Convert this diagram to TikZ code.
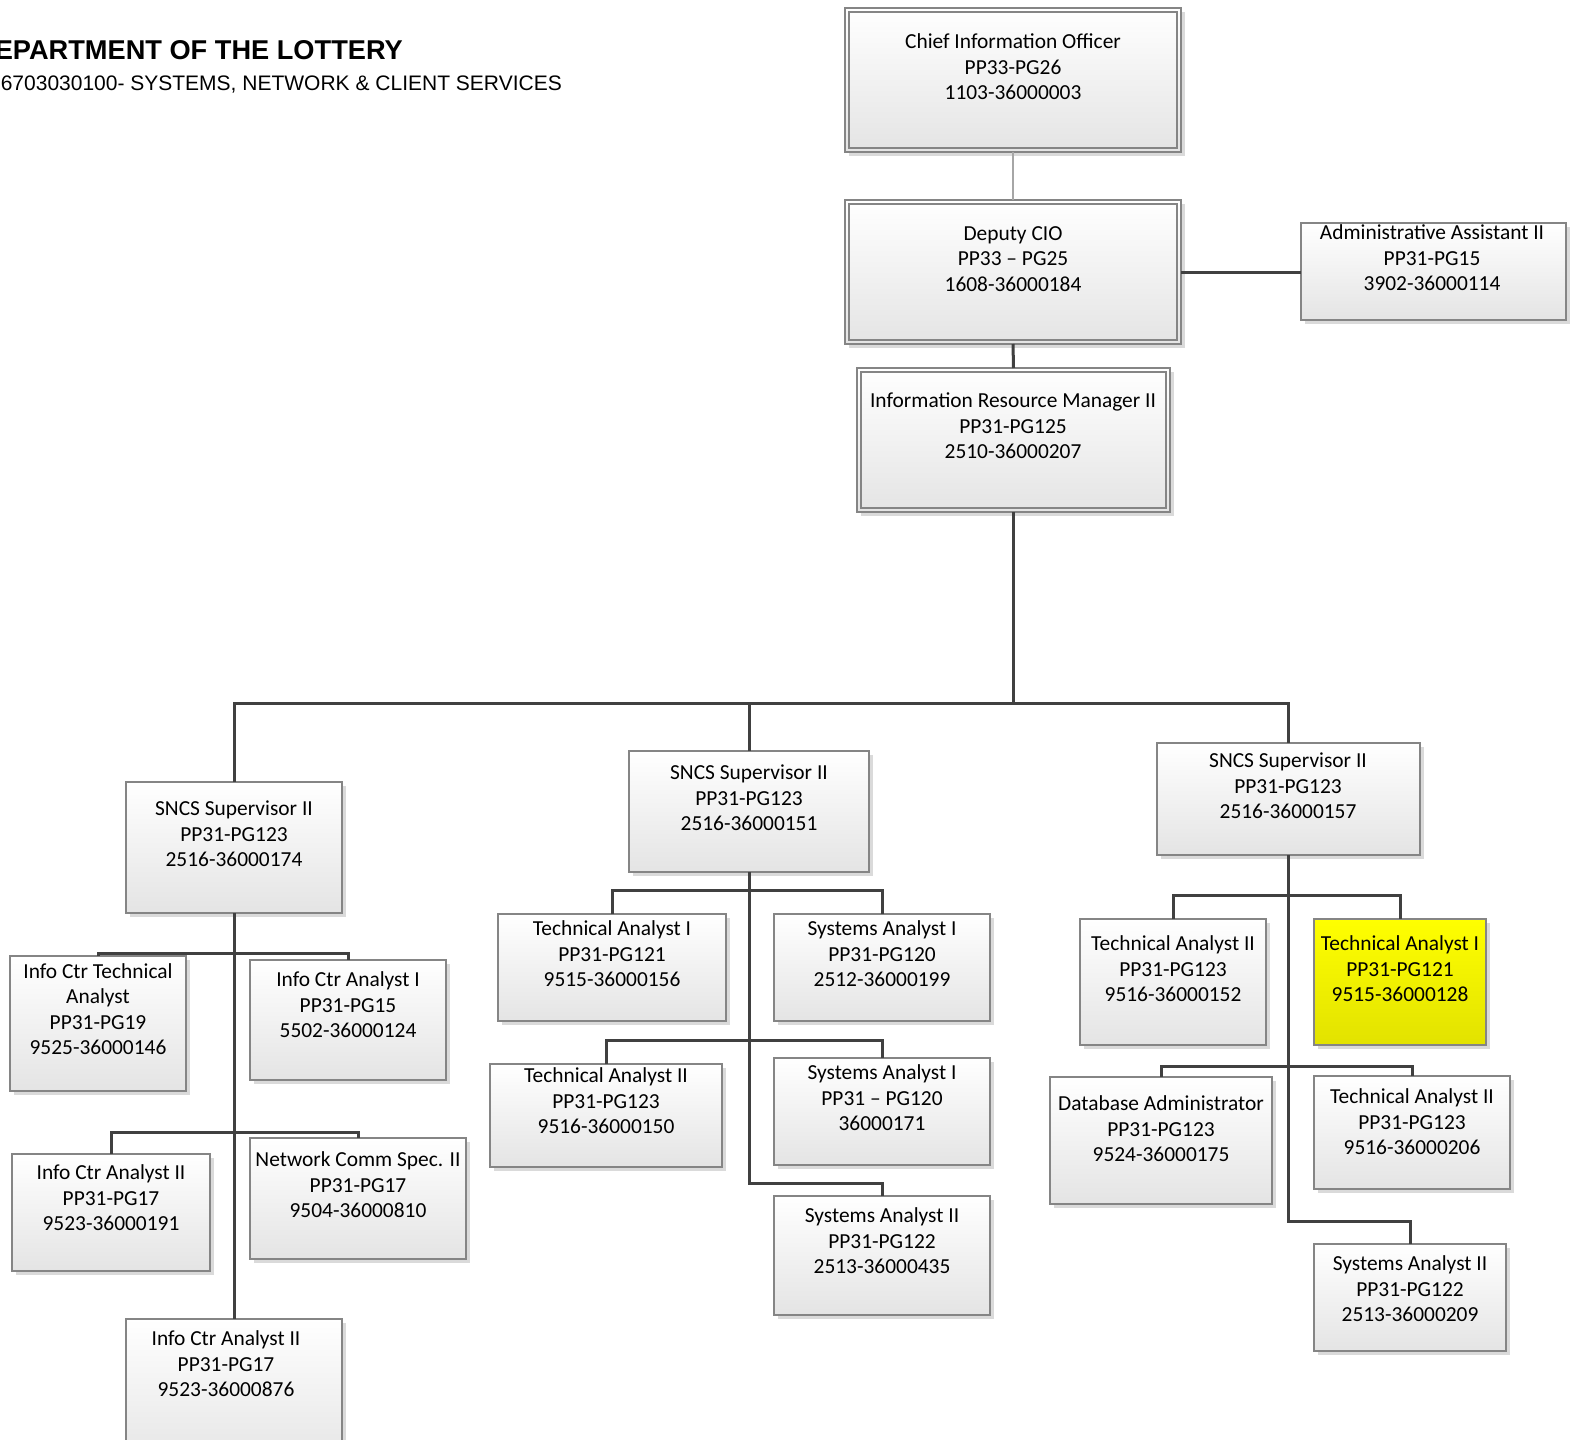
\documentclass[tikz,border=0pt]{standalone}
\usepackage{fontspec}
\setmainfont{Carlito}
\newfontfamily\arialfont{Liberation Sans}
\usetikzlibrary{shadows}

\definecolor{boxedge}{HTML}{858585}
\definecolor{boxbot}{HTML}{E4E4E4}
\definecolor{linkcol}{HTML}{404040}
\definecolor{shadowcol}{HTML}{DADADA}
\definecolor{hiltop}{HTML}{FFFF00}
\definecolor{hilbot}{HTML}{E2E200}

\tikzset{
  orgbox/.style={draw=boxedge, line width=1.5pt, rectangle, inner sep=0pt, outer sep=0pt,
    top color=white, bottom color=boxbot,
    drop shadow={shadow xshift=4pt, shadow yshift=-4pt, fill=shadowcol, opacity=1}},
  hibox/.style={orgbox, top color=hiltop, bottom color=hilbot},
  boxtext/.style={align=center, font=\fontsize{21.4}{25.5}\selectfont, inner sep=0pt},
  innerline/.style={draw=boxedge, line width=1.5pt},
  link/.style={draw=linkcol, line width=3pt, line join=miter},
  thinlink/.style={draw=black!35, line width=2pt},
}

% \orgunit[style]{name}{x1}{y1}{x2}{y2}{text x}{text y}{text}
\newcommand\orgunit[9][orgbox]{%
  \node[#1, minimum width={(#5-(#3))*1pt}, minimum height={(#6-(#4))*1pt}]
    (#2) at ({(#3+#5)/2},{(#4+#6)/2}) {};
  \node[boxtext] (#2-label) at (#7,#8) {#9};
}
% inner frame of a double-bordered box
\newcommand\innerframe[1]{%
  \draw[innerline] ([shift={(4,4)}]#1.north west) rectangle ([shift={(-4,-4)}]#1.south east);
}

\begin{document}
\begin{tikzpicture}[x=1pt, y=-1pt]
\useasboundingbox (0,0) rectangle (1570,1439);
\fill[white] (0,0) rectangle (1570,1439);

% heading
\node[anchor=base east, inner sep=0pt, font=\arialfont\bfseries\fontsize{27.2}{31}\selectfont]
  (heading) at (403,59.5) {DEPARTMENT OF THE LOTTERY};
\node[anchor=base east, inner sep=0pt, font=\arialfont\fontsize{21}{25}\selectfont]
  (subheading) at (562,91) {6703030100- SYSTEMS, NETWORK \& CLIENT SERVICES};

% top of the organisation
\orgunit{cio}{845}{8}{1181}{152}{1013}{67}{Chief Information Officer\\PP33-PG26\\1103-36000003}
\innerframe{cio}
\orgunit{dcio}{845}{200}{1181}{344}{1013}{259}{Deputy CIO\\PP33 -- PG25\\1608-36000184}
\innerframe{dcio}
\orgunit{irm}{857}{368}{1170}{512}{1013}{426}{Information Resource Manager II\\PP31-PG125\\2510-36000207}
\innerframe{irm}
\orgunit{admin}{1301}{223}{1566}{320}{1432}{258}{Administrative Assistant II\\PP31-PG15\\3902-36000114}

% supervisors
\orgunit{sl}{126}{782}{342}{913}{234}{834}{SNCS Supervisor II\\PP31-PG123\\2516-36000174}
\orgunit{sm}{629}{751}{869}{872}{749}{798}{SNCS Supervisor II\\PP31-PG123\\2516-36000151}
\orgunit{sr}{1157}{743}{1420}{855}{1288}{786}{SNCS Supervisor II\\PP31-PG123\\2516-36000157}

% left unit
\orgunit{ictech}{10}{956}{186}{1091}{98}{1009}{Info Ctr Technical\\Analyst\\PP31-PG19\\9525-36000146}
\orgunit{ica1}{250}{960}{446}{1080}{348}{1005}{Info Ctr Analyst I\\PP31-PG15\\5502-36000124}
\orgunit{ica2}{12}{1154}{210}{1271}{111}{1198}{Info Ctr Analyst II\\PP31-PG17\\9523-36000191}
\orgunit{ncs}{250}{1138}{466}{1259}{358}{1185}{Network Comm Spec. II\\PP31-PG17\\9504-36000810}
\orgunit{icab}{126}{1319}{342}{1470}{226}{1364}{Info Ctr Analyst II\\PP31-PG17\\9523-36000876}

% middle unit
\orgunit{taim}{498}{914}{726}{1021}{612}{954}{Technical Analyst I\\PP31-PG121\\9515-36000156}
\orgunit{saim}{774}{914}{990}{1021}{882}{954}{Systems Analyst I\\PP31-PG120\\2512-36000199}
\orgunit{taiim}{490}{1064}{722}{1167}{606}{1101}{Technical Analyst II\\PP31-PG123\\9516-36000150}
\orgunit{saibm}{774}{1058}{990}{1165}{882}{1098}{Systems Analyst I\\PP31 -- PG120\\36000171}
\orgunit{saiim}{774}{1196}{990}{1315}{882}{1241}{Systems Analyst II\\PP31-PG122\\2513-36000435}

% right unit
\orgunit{taiir}{1080}{919}{1266}{1045}{1173}{969}{Technical Analyst II\\PP31-PG123\\9516-36000152}
\orgunit[hibox]{tair}{1314}{919}{1486}{1045}{1400}{969}{Technical Analyst I\\PP31-PG121\\9515-36000128}
\orgunit{dba}{1050}{1077}{1272}{1204}{1161}{1129}{Database Administrator\\PP31-PG123\\9524-36000175}
\orgunit{taiibr}{1314}{1076}{1510}{1189}{1412}{1122}{Technical Analyst II\\PP31-PG123\\9516-36000206}
\orgunit{saiir}{1314}{1244}{1506}{1351}{1410}{1289}{Systems Analyst II\\PP31-PG122\\2513-36000209}

% bus levels
\coordinate (busTop) at (0,703);
\coordinate (busL1) at (0,953);
\coordinate (busL2) at (0,1132);
\coordinate (busM1) at (0,890);
\coordinate (busM2) at (0,1040);
\coordinate (busM3) at (0,1183);
\coordinate (busR1) at (0,895);
\coordinate (busR2) at (0,1066);
\coordinate (busR3) at (0,1221);

% reporting lines
\draw[thinlink] (cio.south) -- (dcio.north);
\draw[link] (dcio.east) -- (admin.west |- dcio.east);
\draw[link] (dcio.south) -- (irm.north);
\draw[link] (irm.south) -- (irm.south |- busTop);
\draw[link] (sl.north) -- (sl.north |- busTop) -- (sr.north |- busTop) -- (sr.north);
\draw[link] (sm.north) -- (sm.north |- busTop);

\draw[link] (sl.south) -- (icab.north -| sl.south);
\draw[link] (ictech.north) -- (ictech.north |- busL1) -- (ica1.north |- busL1) -- (ica1.north);
\draw[link] (ica2.north) -- (ica2.north |- busL2) -- (ncs.north |- busL2) -- (ncs.north);

\draw[link] (sm.south) -- (sm.south |- busM3) -- (saiim.north |- busM3) -- (saiim.north);
\draw[link] (taim.north) -- (taim.north |- busM1) -- (saim.north |- busM1) -- (saim.north);
\draw[link] (taiim.north) -- (taiim.north |- busM2) -- (saibm.north |- busM2) -- (saibm.north);

\draw[link] (sr.south) -- (sr.south |- busR3) -- (saiir.north |- busR3) -- (saiir.north);
\draw[link] (taiir.north) -- (taiir.north |- busR1) -- (tair.north |- busR1) -- (tair.north);
\draw[link] (dba.north) -- (dba.north |- busR2) -- (taiibr.north |- busR2) -- (taiibr.north);
\end{tikzpicture}
\end{document}
